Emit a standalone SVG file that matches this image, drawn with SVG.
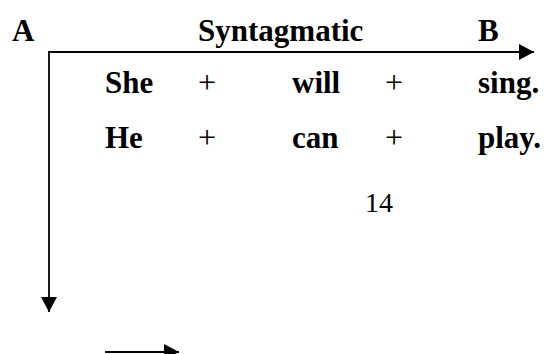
<svg xmlns="http://www.w3.org/2000/svg" width="545" height="354" viewBox="0 0 545 354">
<style>
.b{font-family:"Liberation Serif","Times New Roman",serif;font-weight:bold;font-size:31px;fill:#000}
.r{font-family:"Liberation Serif","Times New Roman",serif;font-size:32px;fill:#000}
.p{font-family:"Liberation Serif","Times New Roman",serif;font-size:28px;fill:#000}
.ln{stroke:#000;stroke-width:1.8;fill:none}
</style>
<defs>
<marker id="ah" markerUnits="userSpaceOnUse" markerWidth="15" markerHeight="16" refX="15" refY="8" orient="auto" viewBox="0 0 15 16">
<path d="M0,0 L15,8 L0,16 Z" fill="#000"/>
</marker>
</defs>
<rect width="545" height="354" fill="#fff"/>
<g id="connectors">
<line class="ln" x1="48" y1="52" x2="534" y2="52" marker-end="url(#ah)"/>
<line class="ln" x1="49" y1="51" x2="49" y2="312" marker-end="url(#ah)"/>
<line class="ln" x1="105" y1="352" x2="179" y2="352" marker-end="url(#ah)"/>
</g>
<g id="labelA"><text class="b" x="12" y="41">A</text></g>
<g id="labelSyntagmatic"><text class="b" x="198" y="41">Syntagmatic</text></g>
<g id="labelB"><text class="b" x="478" y="41">B</text></g>
<g id="row1">
<text class="b" x="105" y="93">She</text>
<text class="r" x="207" y="93" text-anchor="middle">+</text>
<text class="b" x="292" y="93">will</text>
<text class="r" x="394" y="93" text-anchor="middle">+</text>
<text class="b" x="478" y="93">sing.</text>
</g>
<g id="row2">
<text class="b" x="105" y="148">He</text>
<text class="r" x="207" y="148" text-anchor="middle">+</text>
<text class="b" x="292" y="148">can</text>
<text class="r" x="394" y="148" text-anchor="middle">+</text>
<text class="b" x="478" y="148">play.</text>
</g>
<g id="pagenum"><text class="p" x="365" y="212">14</text></g>
</svg>
